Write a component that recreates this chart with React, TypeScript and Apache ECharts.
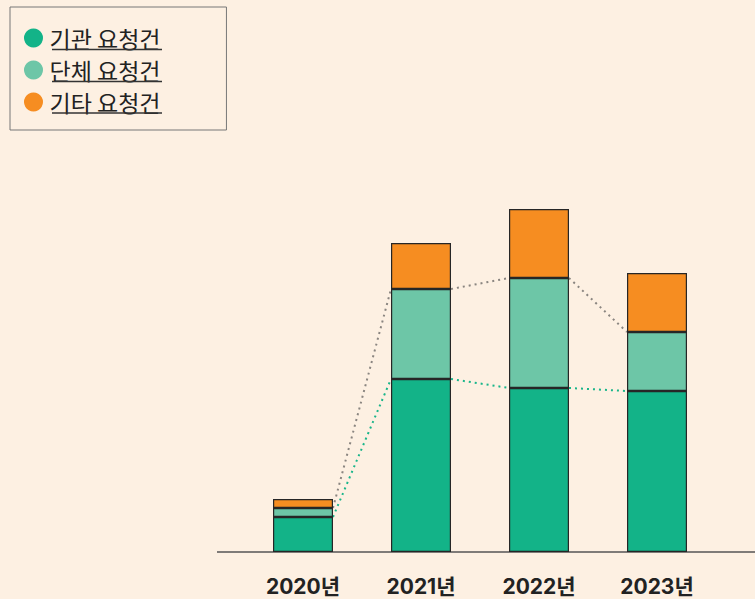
import React, { useEffect, useRef } from "react";
import * as echarts from "echarts";

const categories = ["2020년", "2021년", "2022년", "2023년"];
const seriesNames = ["기관 요청건", "단체 요청건", "기타 요청건"];
const institutionValues = [35, 173, 164, 161];
const groupValues = [9, 90, 110, 59];
const otherValues = [9, 46, 69, 59];

const COLORS = ["#13B388", "#6DC6A7", "#F68D21"];
const BG = "#FDF0E2";
const BAR_W = 60;

function connectorData(tops: number[]) {
  const out: number[][] = [];
  for (let i = 0; i < tops.length - 1; i++) out.push([i, tops[i], tops[i + 1]]);
  return out;
}

export default function App() {
  const ref = useRef<HTMLDivElement>(null);
  useEffect(() => {
    if (!ref.current) return;
    const chart = echarts.init(ref.current, undefined, { renderer: "svg" });
    const greenTops = institutionValues;
    const lightTops = institutionValues.map((v, i) => v + groupValues[i]);
    const makeConnector = (tops: number[], color: string) => ({
      type: "custom",
      silent: true,
      z: 1,
      data: connectorData(tops),
      renderItem: (params: any, api: any) => {
        const i = api.value(0);
        const a = api.coord([i, api.value(1)]);
        const b = api.coord([i + 1, api.value(2)]);
        return {
          type: "line",
          shape: { x1: a[0] + BAR_W / 2, y1: a[1], x2: b[0] - BAR_W / 2, y2: b[1] },
          style: { stroke: color, lineWidth: 2, lineDash: [2, 4], fill: null },
        };
      },
    });
    const barBase = {
      type: "bar",
      stack: "total",
      barWidth: BAR_W,
      z: 2,
    };
    const underlines = [49.5, 81.5, 113].map((y) => ({
      type: "line",
      shape: { x1: 52, y1: y, x2: 162, y2: y },
      style: { stroke: "#333", lineWidth: 1.5 },
      z: 10,
    }));
    const barStyle = (c: string) => ({ color: c, borderColor: "#262626", borderWidth: 1.2 });
    chart.setOption({
      animation: false,
      backgroundColor: BG,
      grid: { left: 244, right: 39, top: 152, bottom: 47 },
      legend: {
        orient: "vertical",
        left: 10,
        top: 7,
        data: seriesNames,
        icon: "circle",
        itemWidth: 22,
        itemHeight: 19,
        itemGap: 8,
        padding: [19, 66, 16, 14],
        borderColor: "#777",
        borderWidth: 1,
        backgroundColor: BG,
        selectedMode: false,
        itemStyle: { borderWidth: 0 },
        textStyle: {
          fontSize: 23,
          lineHeight: 24,
          color: "#222",
          fontFamily: "Noto Sans CJK KR",
        },
      },
      xAxis: {
        type: "category",
        data: categories,
        axisLine: { show: false },
        axisTick: { show: false },
        axisLabel: {
          margin: 24,
          fontSize: 21,
          fontWeight: "bold",
          color: "#222",
          fontFamily: "Inter, Noto Sans CJK KR",
        },
      },
      yAxis: { type: "value", min: 0, max: 400, show: false },
      graphic: [
        {
          type: "line",
          shape: { x1: 217, y1: 552, x2: 755, y2: 552 },
          style: { stroke: "#555", lineWidth: 1.5 },
          z: 0,
        },
        ...underlines,
      ],
      series: [
        makeConnector(greenTops, "#19B58A"),
        makeConnector(lightTops, "#8A8580"),
        { ...barBase, name: seriesNames[0], data: institutionValues, itemStyle: barStyle(COLORS[0]) },
        { ...barBase, name: seriesNames[1], data: groupValues, itemStyle: barStyle(COLORS[1]) },
        { ...barBase, name: seriesNames[2], data: otherValues, itemStyle: barStyle(COLORS[2]) },
      ],
    });
    return () => chart.dispose();
  }, []);
  return (
    <div
      ref={ref}
      style={{ position: "fixed", left: 0, top: 0, width: 755, height: 599 }}
    />
  );
}
